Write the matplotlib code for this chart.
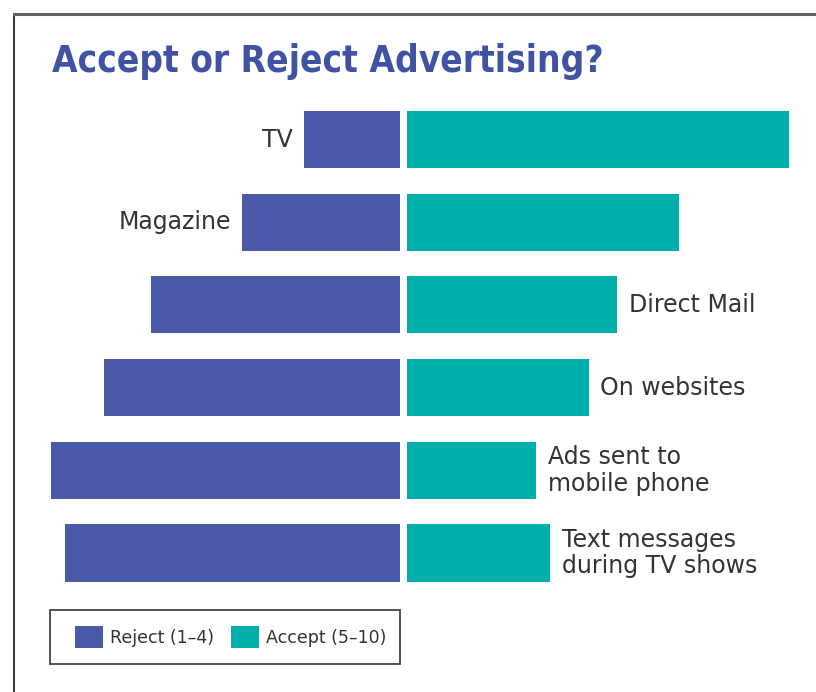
import matplotlib.pyplot as plt
from matplotlib.patches import Patch, Rectangle
from matplotlib.lines import Line2D

# values (share of respondents, %)
categories = ["TV", "Magazine", "Direct Mail", "On websites",
              "Ads sent to\nmobile phone", "Text messages\nduring TV shows"]
reject = [20, 33, 52, 62, 73, 70]
accept = [80, 57, 44, 38, 27, 30]
label_side = ["left", "left", "right", "right", "right", "right"]

BLUE = "#4a5aa8"
TEAL = "#00aeaa"
TITLE_BLUE = "#3f52a3"
TEXT = "#333333"

W, H = 816, 692
fig = plt.figure(figsize=(W / 100, H / 100), dpi=100)
ax = fig.add_axes([0, 0, 1, 1])

# pixel geometry of the reference -> data limits
px_per_unit = 4.78
centre_px = 403.5
row0_px, row_step = 139.5, 82.7
ax.set_xlim(-centre_px / px_per_unit, (W - centre_px) / px_per_unit)
ax.set_ylim((H - row0_px) / row_step, -row0_px / row_step)
ax.axis("off")

gap = 0.73
bar_h = 0.69
ypos = list(range(len(categories)))

ax.barh(ypos, [-r for r in reject], left=-gap, height=bar_h, color=BLUE)
ax.barh(ypos, accept, left=gap, height=bar_h, color=TEAL)

pad = 2.4
for y, name, r, a, side in zip(ypos, categories, reject, accept, label_side):
    if side == "left":
        ax.text(-gap - r - pad, y, name, ha="right", va="center",
                fontsize=17, color=TEXT, linespacing=1.15)
    else:
        ax.text(gap + a + pad, y, name, ha="left", va="center",
                fontsize=17, color=TEXT, linespacing=1.15)

# title
fig.text(52 / W, 1 - 61 / H, "Accept or Reject Advertising?", fontsize=26.5,
         fontweight="bold", color=TITLE_BLUE, va="center", ha="left",
         fontstretch="condensed")

# outer frame (left and top edges only are visible)
fx, fy = 14 / W, 1 - 14 / H
fig.add_artist(Line2D([fx, fx], [0, fy], color="#333333", lw=1.4))
fig.add_artist(Line2D([fx, 1], [fy, fy], color="#666666", lw=2.2))

# legend box drawn by hand, entries placed inside it
fig.add_artist(Rectangle((50 / W, 1 - 664 / H), 350 / W, 54 / H,
                         transform=fig.transFigure, facecolor="white",
                         edgecolor="#444444", lw=1.3))
handles = [Patch(facecolor=BLUE, edgecolor="none", label="Reject (1\u20134)"),
           Patch(facecolor=TEAL, edgecolor="none", label="Accept (5\u201310)")]
leg = fig.legend(handles=handles, loc="center left",
                 bbox_to_anchor=(75 / W, 1 - 637 / H), ncol=2, frameon=False,
                 fontsize=12.5, handlelength=1.6, handleheight=1.6,
                 handletextpad=0.4, columnspacing=1.0, borderpad=0,
                 borderaxespad=0, labelcolor=TEXT)

fig.savefig("out.png", dpi=100)
